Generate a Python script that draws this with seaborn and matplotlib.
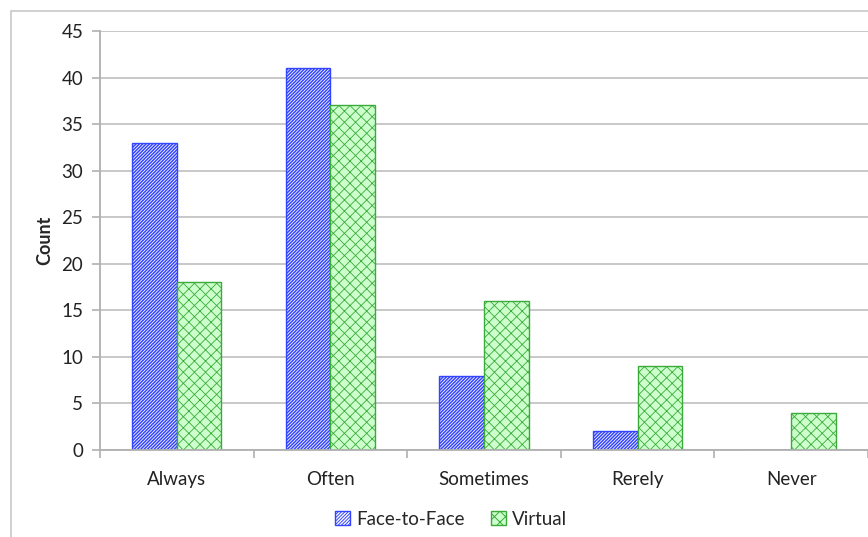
import matplotlib
matplotlib.use("Agg")
import matplotlib.pyplot as plt
from matplotlib.patches import Rectangle
from matplotlib.ticker import FixedLocator
import pandas as pd
import seaborn as sns

categories = ["Always", "Often", "Sometimes", "Rerely", "Never"]
face_to_face = [33, 41, 8, 2, 0]
virtual = [18, 37, 16, 9, 4]
series_names = ["Face-to-Face", "Virtual"]
y_ticks = [0, 5, 10, 15, 20, 25, 30, 35, 40, 45]

df = pd.DataFrame({
    "Response": categories * 2,
    "Count": face_to_face + virtual,
    "Mode": [series_names[0]] * len(categories) + [series_names[1]] * len(categories),
})

sns.set_theme(style="white")
plt.rcParams["font.family"] = ["Lato", "DejaVu Sans"]
plt.rcParams["hatch.linewidth"] = 0.7

fig = plt.figure(figsize=(8.68, 5.37), dpi=100)
ax = fig.add_axes([100 / 868, 1 - 450 / 537, 1 - 100 / 868, (450 - 31) / 537])

# outer frame of the chart area
fig.patches.append(Rectangle((11 / 868, -0.02), 1.1, 1 - 11 / 537 + 0.02,
                             transform=fig.transFigure, fill=False,
                             edgecolor="#c8c8c8", linewidth=1.2))

sns.barplot(data=df, x="Response", y="Count", hue="Mode", order=categories,
            hue_order=series_names, palette=["#ffffff", "#ccffcc"],
            width=0.58, ax=ax, legend=True, saturation=1)

styles = {
    series_names[0]: dict(hatch="//////////", edgecolor="#3344ff", facecolor="#ffffff", hlw=1.1),
    series_names[1]: dict(hatch="xxx", edgecolor="#3aaa3a", facecolor="#ccffcc", hlw=0.6),
}


def style_patch(p, name):
    st = styles[name]
    p.set_hatch(st["hatch"])
    p.set_edgecolor(st["edgecolor"])
    p.set_facecolor(st["facecolor"])
    if hasattr(p, "set_hatch_linewidth"):
        p.set_hatch_linewidth(st["hlw"])


for cont, name in zip(ax.containers, series_names):
    for bar in cont:
        style_patch(bar, name)
        bar.set_linewidth(1.0)

ax.set_xlim(-0.5, 4.5)
ax.set_ylim(0, 45)
ax.set_yticks(y_ticks)
ax.yaxis.grid(True, color="#c4c4c4", linewidth=1.3)
ax.set_axisbelow(True)

for s in ["top", "right"]:
    ax.spines[s].set_visible(False)
for s in ["left", "bottom"]:
    ax.spines[s].set_color("#b0b0b0")
    ax.spines[s].set_linewidth(1.3)

ax.tick_params(axis="y", which="major", direction="out", length=6, width=1.2,
               color="#b0b0b0", left=True, labelsize=13.5, pad=6, labelcolor="#222222")
ax.tick_params(axis="x", which="major", length=0, labelsize=13.5, pad=15, labelcolor="#222222")
ax.xaxis.set_minor_locator(FixedLocator([i + 0.5 for i in range(-1, len(categories))]))
ax.tick_params(axis="x", which="minor", direction="out", length=6, width=1.2,
               color="#b0b0b0", bottom=True)

ax.set_xlabel("")
ax.set_ylabel("Count", fontsize=13, fontweight="bold", labelpad=6)

handles, labels = ax.get_legend_handles_labels()
for h, name in zip(handles, series_names):
    style_patch(h, name)
ax.legend(handles, labels, loc="center", bbox_to_anchor=(0.5 - 33 / 768, -0.165),
          ncol=2, frameon=False, fontsize=13.5, handlelength=0.8, handleheight=0.8,
          handletextpad=0.3, columnspacing=1.4)

fig.savefig("out.png", dpi=100)
